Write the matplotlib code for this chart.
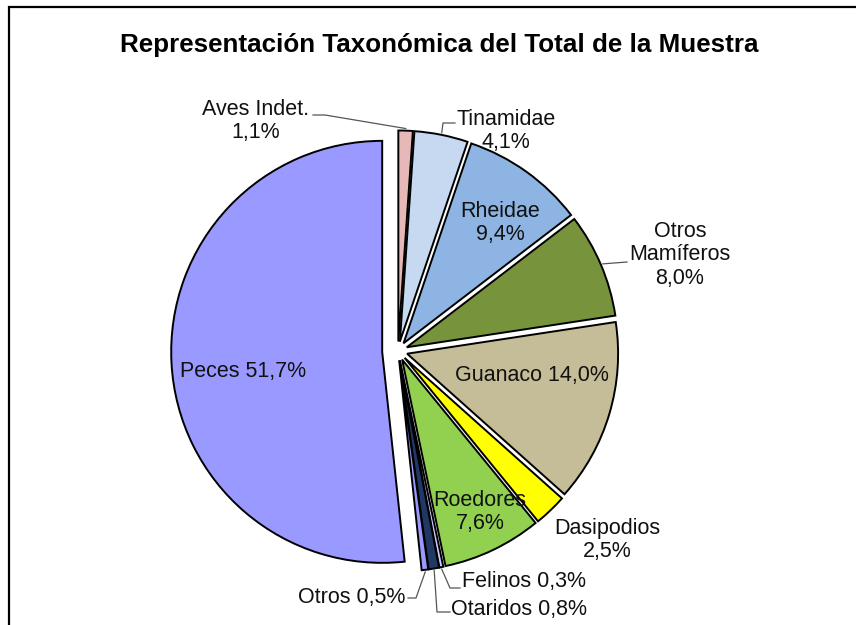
import numpy as np
import matplotlib
matplotlib.use("Agg")
import matplotlib.pyplot as plt
from matplotlib.patches import Rectangle

plt.rcParams['font.family'] = ['Liberation Sans', 'DejaVu Sans']

# data, clockwise from 12 o'clock
taxa = ['Aves Indet.', 'Tinamidae', 'Rheidae', 'Otros Mamíferos', 'Guanaco',
        'Dasipodios', 'Roedores', 'Felinos', 'Otaridos', 'Otros', 'Peces']
pct = [1.1, 4.1, 9.4, 8.0, 14.0, 2.5, 7.6, 0.3, 0.8, 0.5, 51.7]
label_txt = ['Aves Indet.\n1,1%', 'Tinamidae\n4,1%', 'Rheidae\n9,4%',
             'Otros\nMamíferos\n8,0%', 'Guanaco 14,0%', 'Dasipodios\n2,5%',
             'Roedores\n7,6%', 'Felinos 0,3%', 'Otaridos 0,8%', 'Otros 0,5%',
             'Peces 51,7%']
colors = ['#E6B9B8', '#C6D9F1', '#8DB4E2', '#77933C', '#C4BD97', '#FFFF00',
          '#92D050', '#CCCCFF', '#1F3864', '#9999FF', '#9999FF']
explode = [0.045] * 10 + [0.075]

W, H = 856, 625
CX, CY, R = 398, 351, 211   # pie centre / radius in pixels
L = 1.45

fig = plt.figure(figsize=(W / 100, H / 100), dpi=100)
fig.patches.append(Rectangle((9 / W, -0.1), 1.2, 1 - 7 / H + 0.1,
                             transform=fig.transFigure, fill=False,
                             edgecolor='black', linewidth=1.6))

side = 2 * L * R
ax = fig.add_axes([(CX - side / 2) / W, (H - CY - side / 2) / H, side / W, side / H])

wedges, _ = ax.pie(pct, colors=colors, explode=explode, startangle=90,
                   counterclock=False,
                   wedgeprops=dict(edgecolor='black', linewidth=1.4))
ax.set_xlim(-L, L)
ax.set_ylim(-L, L)
ax.set_aspect('equal')
ax.axis('off')


def px(x, y):
    return (x - CX) / R, (CY - y) / R


def edge_point(w, extra=0.0):
    a = np.deg2rad((w.theta1 + w.theta2) / 2)
    return (w.center[0] + (w.r + extra) * np.cos(a),
            w.center[1] + (w.r + extra) * np.sin(a))


# label layout (pixel positions, alignment, leader start/elbow)
layout = {
    'Aves Indet.': ((256, 121), 'center', [(313, 115), (325, 115)]),
    'Tinamidae': ((506, 131), 'center', [(455, 123), (443, 123)]),
    'Rheidae': ((500, 223), 'center', None),
    'Otros Mamíferos': ((680, 255), 'center', [(627, 262)]),
    'Guanaco': ((532, 375), 'center', None),
    'Dasipodios': ((607, 540), 'center', None),
    'Roedores': ((480, 512), 'center', None),
    'Felinos': ((462, 582), 'left', [(460, 588), (450, 588)]),
    'Otaridos': ((451, 610), 'left', [(450, 612), (437, 612)]),
    'Otros': ((405, 598), 'right', [(408, 598), (416, 598)]),
    'Peces': ((243, 372), 'center', None),
}

for w, name, txt in zip(wedges, taxa, label_txt):
    pos, ha, leader = layout[name]
    ax.text(*px(*pos), txt, ha=ha, va='center', fontsize=15.5,
            color='#111111', linespacing=1.15)
    if leader:
        pts = [px(*p) for p in leader] + [edge_point(w, 0.01)]
        xs, ys = zip(*pts)
        ax.plot(xs, ys, color='#555555', linewidth=0.9)

fig.text(439 / W, 1 - 45 / H, 'Representación Taxonómica del Total de la Muestra',
         ha='center', va='center', fontsize=18.7, fontweight='bold')

fig.savefig('out.png', dpi=100, facecolor='white')
